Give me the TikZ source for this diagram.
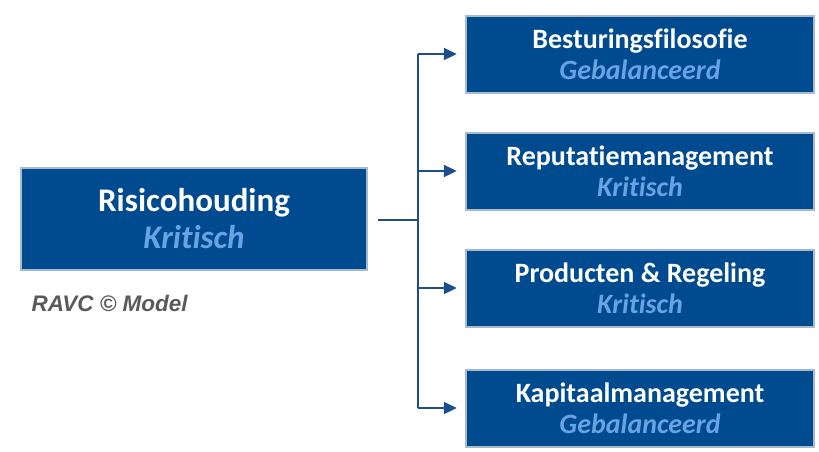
\documentclass[tikz,border=0pt]{standalone}
\usepackage{fontspec}
\setmainfont{Carlito}[Ligatures={NoCommon}]
\newfontfamily\notefont{Liberation Sans}
\usepackage{tikz}
\usetikzlibrary{arrows.meta, calc}

\definecolor{boxblue}{RGB}{0,74,143}
\definecolor{subblue}{RGB}{104,163,228}
\definecolor{lineblue}{RGB}{28,78,140}
\definecolor{notegray}{RGB}{90,90,90}

\begin{document}
\begin{tikzpicture}[
    x=1pt, y=-1pt,
    box/.style={fill=boxblue, text=white, align=center, inner sep=0pt,
        preaction={draw=boxblue!80!black, draw opacity=0.35, line width=4pt}},
    mainbox/.style={box, minimum width=344pt, minimum height=100pt,
        font=\fontsize{33}{37}\selectfont\bfseries},
    sidebox/.style={box, minimum width=346pt, minimum height=75pt,
        font=\fontsize{28}{31}\selectfont\bfseries},
    conn/.style={lineblue, line width=1.9pt},
    arrow/.style={conn, -{Triangle[length=13pt, width=12pt]}, shorten >=10pt}
]

    \useasboundingbox (0,0) rectangle (819,451);

    % Left box
    \node[mainbox] (risico) at (194,219)
        {Risicohouding\\\textcolor{subblue}{\itshape Kritisch}};
    \node[anchor=west, text=notegray, font=\notefont\fontsize{22.5}{26}\selectfont\bfseries\itshape]
        (note) at (28,303) {RAVC © Model};

    % Right boxes
    \node[sidebox] (besturing) at (640,54)
        {Besturingsfilosofie\\\textcolor{subblue}{\itshape Gebalanceerd}};
    \node[sidebox] (reputatie) at (640,171)
        {Reputatiemanagement\\\textcolor{subblue}{\itshape Kritisch}};
    \node[sidebox] (producten) at (640,288)
        {Producten \& Regeling\\\textcolor{subblue}{\itshape Kritisch}};
    \node[sidebox] (kapitaal) at (640,408)
        {Kapitaalmanagement\\\textcolor{subblue}{\itshape Gebalanceerd}};

    % Connectors
    \coordinate (split) at (418,220);
    \draw[conn] ([xshift=12pt]risico.east |- split) -- (split);
    \draw[conn] (split |- besturing) -- (split |- kapitaal);
    \foreach \n in {besturing, reputatie, producten, kapitaal}
        \draw[arrow] (split |- \n) -- (\n.west);

\end{tikzpicture}
\end{document}
